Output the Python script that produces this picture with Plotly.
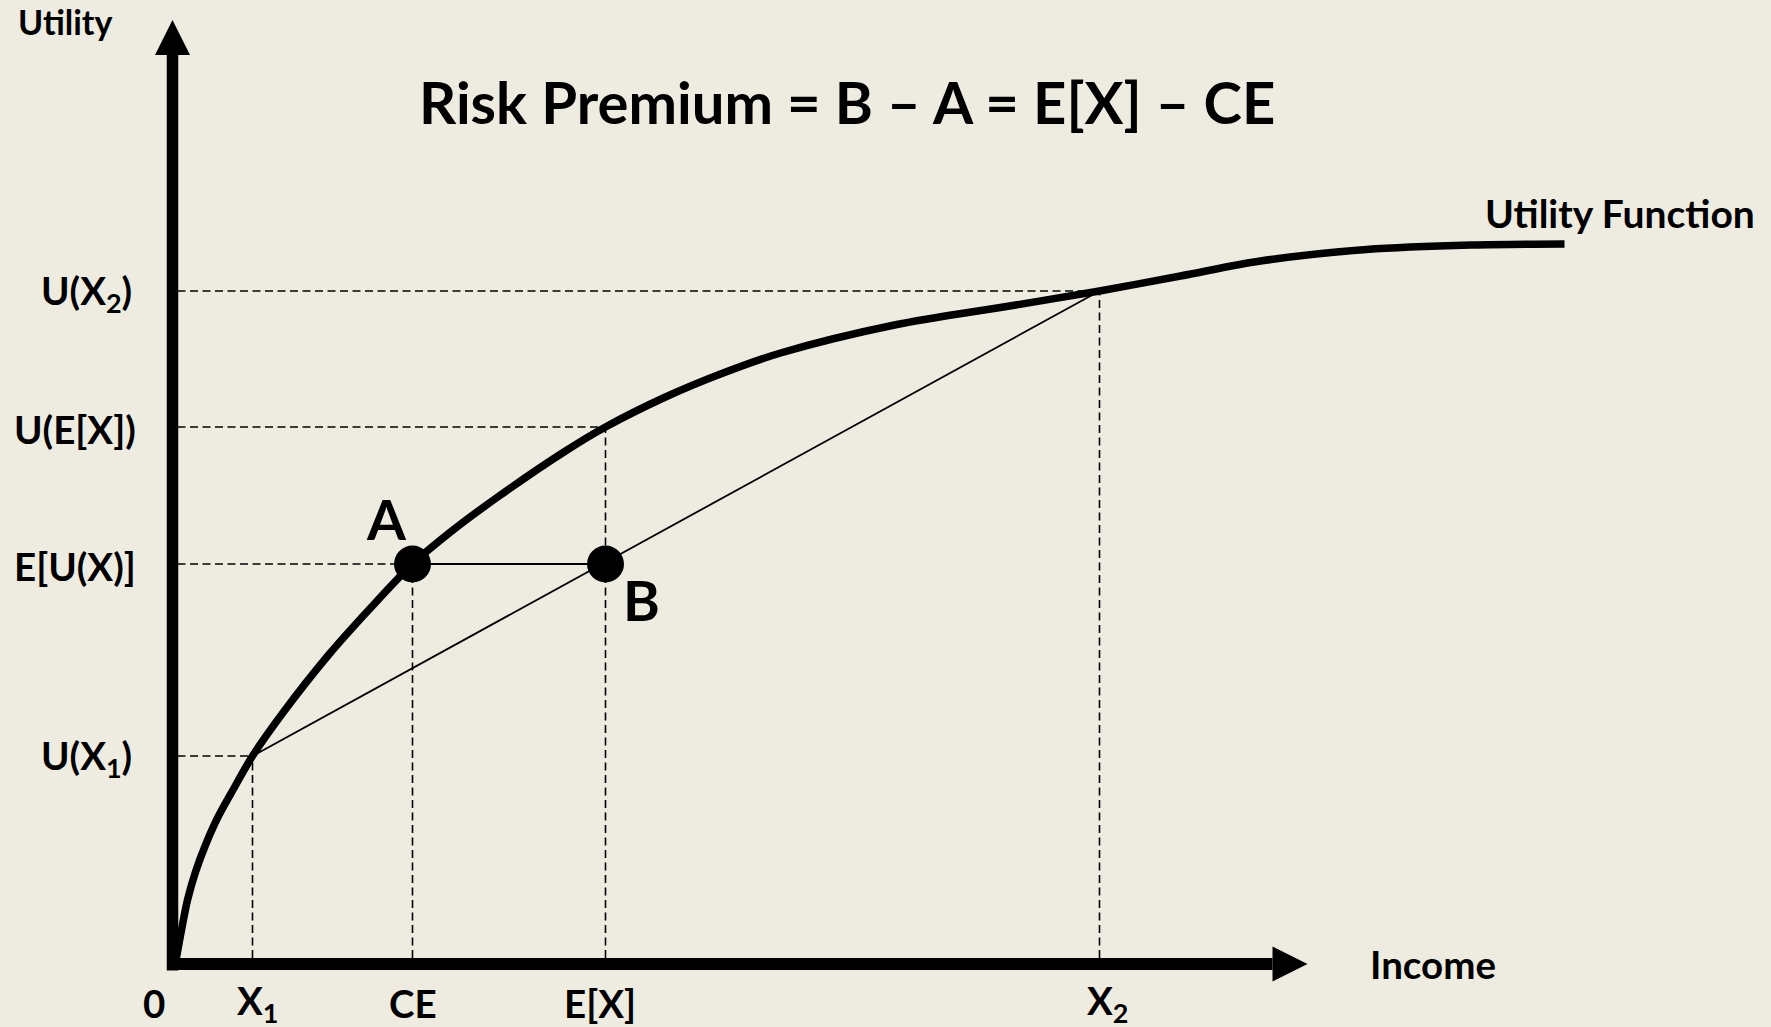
import plotly.graph_objects as go

# ---------------- data (diagram units) ----------------
# utility curve
curve_x = [0.03, 0.09, 0.15, 0.23, 0.33, 0.45, 0.61, 0.80, 1.11, 1.56, 1.98, 2.40, 2.78,
           3.28, 3.93, 4.33, 4.93, 5.48, 6.08, 7.22, 8.37, 9.27, 10.08, 10.88, 11.94, 12.99, 13.92]
curve_y = [0.01, 0.34, 0.64, 0.92, 1.19, 1.46, 1.75, 2.08, 2.52, 3.09, 3.56, 4.00, 4.32,
           4.69, 5.13, 5.37, 5.67, 5.90, 6.11, 6.39, 6.58, 6.73, 6.88, 7.03, 7.145, 7.19, 7.20]

# income levels (x) and utility levels (y) of the marked points
x_names = ["X<sub>1</sub>", "CE", "E[X]", "X<sub>2</sub>"]
x_vals = [0.80, 2.40, 4.33, 9.27]
y_names = ["U(X<sub>1</sub>)", "E[U(X)]", "U(E[X])", "U(X<sub>2</sub>)"]
y_vals = [2.08, 4.00, 5.37, 6.73]

# points A and B
pt_names = ["A", "B"]
pt_x = [2.40, 4.33]
pt_y = [4.00, 4.00]

# axes extents
x_axis_end = 11.35
y_axis_end = 9.44

BG = "#EEECE1"
FONT = "Lato"

fig = go.Figure()

# dashed guide lines
for xv, yv in zip(x_vals, y_vals):
    fig.add_trace(go.Scatter(x=[0.05, xv], y=[yv, yv], mode="lines",
                             line=dict(color="black", width=1.6, dash="8px,4.5px"),
                             hoverinfo="skip", showlegend=False))
    fig.add_trace(go.Scatter(x=[xv, xv], y=[0.06, yv], mode="lines",
                             line=dict(color="black", width=1.6, dash="8px,4.5px"),
                             hoverinfo="skip", showlegend=False))

# chord between X1 and X2
fig.add_trace(go.Scatter(x=[x_vals[0], x_vals[3]], y=[y_vals[0], y_vals[3]], mode="lines",
                         line=dict(color="black", width=1.8), hoverinfo="skip", showlegend=False))
# A - B segment
fig.add_trace(go.Scatter(x=pt_x, y=pt_y, mode="lines",
                         line=dict(color="black", width=2.2), hoverinfo="skip", showlegend=False))

# utility curve
fig.add_trace(go.Scatter(x=curve_x, y=curve_y, mode="lines",
                         line=dict(color="black", width=7.5, shape="spline", smoothing=0.9),
                         hoverinfo="skip", showlegend=False))

# axes
ah = 0.35  # arrowhead length
aw = 0.175  # arrowhead half width
fig.add_trace(go.Scatter(x=[0, 0], y=[-0.065, y_axis_end - ah], mode="lines",
                         line=dict(color="black", width=11.5), hoverinfo="skip", showlegend=False))
fig.add_trace(go.Scatter(x=[-0.055, x_axis_end - ah], y=[0, 0], mode="lines",
                         line=dict(color="black", width=12), hoverinfo="skip", showlegend=False))
fig.add_trace(go.Scatter(x=[-aw, aw, 0, -aw], y=[y_axis_end - ah, y_axis_end - ah, y_axis_end, y_axis_end - ah],
                         mode="lines", fill="toself", fillcolor="black",
                         line=dict(color="black", width=0), hoverinfo="skip", showlegend=False))
fig.add_trace(go.Scatter(x=[x_axis_end - ah, x_axis_end - ah, x_axis_end, x_axis_end - ah], y=[-aw, aw, 0, -aw],
                         mode="lines", fill="toself", fillcolor="black",
                         line=dict(color="black", width=0), hoverinfo="skip", showlegend=False))

# points A and B
fig.add_trace(go.Scatter(x=pt_x, y=pt_y, mode="markers",
                         marker=dict(color="black", size=37, line=dict(width=0)),
                         hoverinfo="skip", showlegend=False))

def label(text, x, y, size, xanchor="center"):
    fig.add_annotation(x=x, y=y, xref="x", yref="y", text=text, showarrow=False,
                       xanchor=xanchor, yanchor="middle",
                       font=dict(family=FONT, size=size, color="black", weight="bold"))

lab = 38.5
# y-axis labels
y_label_x = [-0.86, -0.975, -0.975, -0.86]
for name, yv, lx in zip(y_names, y_vals, y_label_x):
    label(name, lx, yv - 0.02, lab)
# x-axis labels
x_label_dx = [0.05, 0.0, -0.06, 0.08]
for name, xv, dx in zip(x_names, x_vals, x_label_dx):
    label(name, xv + dx, -0.385, lab)
label("0", -0.19, -0.385, lab)

label("Income", 12.60, 0.0, lab)
label("Utility Function", 14.47, 7.51, 39)
label("Utility", -1.075, 9.43, 34)
label("Risk Premium = B \u2013 A = E[X] \u2013 CE", 6.74, 8.625, 58)
label("A", 2.14, 4.46, 56)
label("B", 4.69, 3.65, 56)

fig.update_layout(
    width=1771, height=1027,
    margin=dict(l=0, r=0, t=0, b=0),
    paper_bgcolor=BG, plot_bgcolor=BG,
    xaxis=dict(range=[-1.725, 15.985], visible=False, fixedrange=True),
    yaxis=dict(range=[-0.63, 9.64], visible=False, fixedrange=True),
    showlegend=False,
)

fig.write_html("out.html", config={"displayModeBar": False},
               post_script="document.body.style.margin='0';document.body.style.background='" + BG + "';")
